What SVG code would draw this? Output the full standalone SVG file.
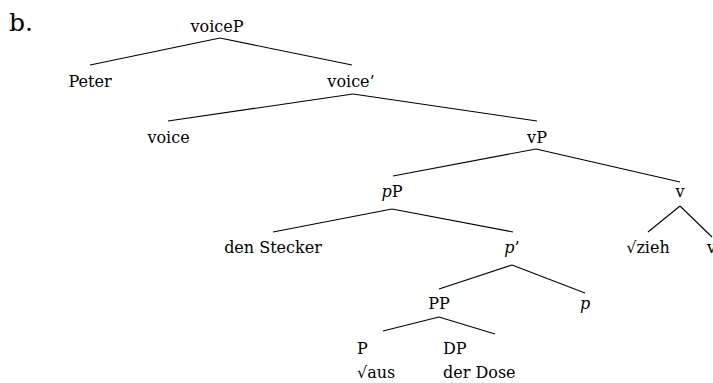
<svg xmlns="http://www.w3.org/2000/svg" width="713" height="383" viewBox="0 0 713 383">
<style>
text { font-family: 'DejaVu Serif', serif; font-size: 16px; fill: #000; }
.c { text-anchor: middle; }
.big { font-size: 25px; }
.edges line { stroke: #000; stroke-width: 1.1; }
</style>
<rect width="713" height="383" fill="#fff"/>
<text class="big" x="9" y="31">b.</text>
<g class="edges" id="connectors">
<line x1="220" y1="38" x2="90" y2="65"/>
<line x1="220" y1="38" x2="352" y2="65"/>
<line x1="353" y1="94" x2="168" y2="121"/>
<line x1="353" y1="94" x2="537" y2="121"/>
<line x1="536" y1="149" x2="393" y2="176"/>
<line x1="536" y1="149" x2="680" y2="182"/>
<line x1="392" y1="209" x2="273" y2="232"/>
<line x1="392" y1="209" x2="513" y2="232"/>
<line x1="680" y1="206" x2="648" y2="232"/>
<line x1="680" y1="206" x2="712" y2="237"/>
<line x1="512" y1="265" x2="439" y2="289"/>
<line x1="512" y1="265" x2="585" y2="293"/>
<line x1="439" y1="317" x2="383" y2="331"/>
<line x1="439" y1="317" x2="495" y2="334"/>
</g>
<g id="voiceP"><text class="c" x="217" y="32">voiceP</text></g>
<g id="Peter"><text class="c" x="90" y="87">Peter</text></g>
<g id="voiceBar"><text class="c" x="351" y="87">voice’</text></g>
<g id="voice"><text class="c" x="168.5" y="143">voice</text></g>
<g id="vP"><text class="c" x="537" y="143">vP</text></g>
<g id="pP"><text class="c" x="392" y="197"><tspan font-style="italic">p</tspan>P</text></g>
<g id="v"><text class="c" x="680" y="197">v</text></g>
<g id="denStecker"><text class="c" x="273" y="253">den Stecker</text></g>
<g id="pBar"><text class="c" x="512" y="253"><tspan font-style="italic">p</tspan>’</text></g>
<g id="zieh"><text class="c" x="648" y="253">√zieh</text></g>
<g id="v2"><text x="707" y="253">v</text></g>
<g id="PP"><text class="c" x="439" y="309">PP</text></g>
<g id="p"><text class="c" x="585" y="309" font-style="italic">p</text></g>
<g id="P"><text x="357" y="354">P</text><text x="357" y="378">√aus</text></g>
<g id="DP"><text x="443" y="354">DP</text><text x="443" y="378">der Dose</text></g>
</svg>
